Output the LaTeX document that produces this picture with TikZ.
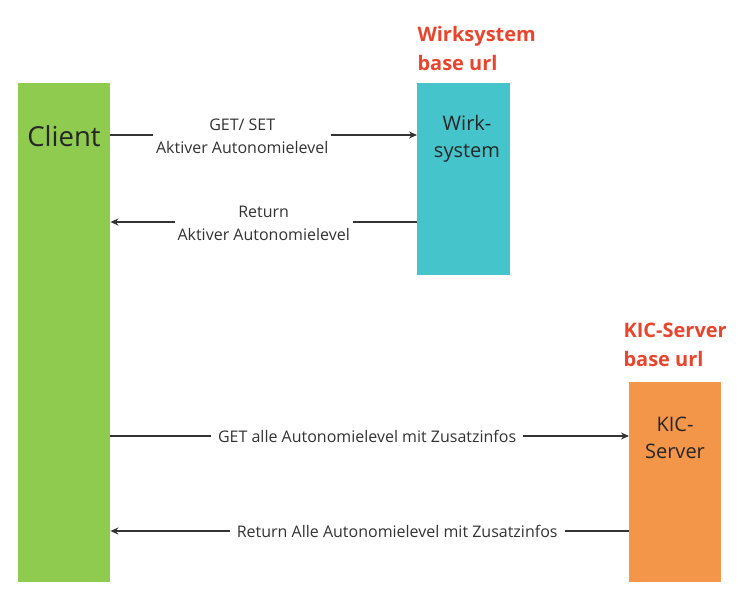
\documentclass[tikz,border=0pt]{standalone}
\usepackage{fontspec}
\setmainfont{Open Sans}
\usetikzlibrary{arrows.meta}
\definecolor{cgreen}{HTML}{8FCB4F}
\definecolor{ccyan}{HTML}{45C5CB}
\definecolor{corange}{HTML}{F4964A}
\definecolor{cred}{HTML}{E8452C}
\definecolor{cline}{HTML}{333333}
\tikzset{
  box/.style={draw=none, inner sep=0pt, anchor=north west},
  arr/.style={draw=cline, line width=1.6pt, -{Stealth[length=8pt,width=7pt]}},
  lbl/.style={fill=white, inner xsep=3pt, inner ysep=1pt, align=center, font=\fontsize{16}{23}\selectfont, text=cline},
  boxtxt/.style={align=center, text=black!85, font=\fontsize{20}{27}\selectfont},
  redlbl/.style={anchor=west, align=left, text=cred, font=\fontsize{20}{29}\selectfont\bfseries},
}
\begin{document}
\begin{tikzpicture}[x=1pt,y=-1pt]
\useasboundingbox (0,0) rectangle (744,605);
\node[box, fill=cgreen, minimum width=92pt, minimum height=499pt] (client) at (18,83) {};
\node[box, fill=ccyan, minimum width=93pt, minimum height=192pt] (wirk) at (417,83) {};
\node[box, fill=corange, minimum width=92pt, minimum height=200pt] (kic) at (629,382) {};
\node[text=black!85, font=\fontsize{27.5}{30}\selectfont] (clientlbl) at (64,136) {Client};
\node[boxtxt] (wirklbl) at (467,139) {Wirk-\\system};
\node[boxtxt] (kiclbl) at (675,438) {KIC-\\Server};
\node[redlbl] (wirkurl) at (414,48) {Wirksystem\\base url};
\node[redlbl] (kicurl) at (620,345) {KIC-Server\\base url};
\draw[arr] (client.east |- 0,135) -- node[lbl, pos=0.43, yshift=-1pt] {GET/ SET\\Aktiver Autonomielevel} (wirk.west |- 0,135);
\draw[arr] (wirk.west |- 0,222) -- node[lbl, pos=0.5, yshift=-1pt] {Return\\Aktiver Autonomielevel} (client.east |- 0,222);
\draw[arr] (client.east |- 0,436) -- node[lbl, pos=0.495, inner xsep=7pt] {GET alle Autonomielevel mit Zusatzinfos} (kic.west |- 0,436);
\draw[arr] (kic.west |- 0,531) -- node[lbl, pos=0.447, inner xsep=7pt] {Return Alle Autonomielevel mit Zusatzinfos} (client.east |- 0,531);
\end{tikzpicture}
\end{document}
